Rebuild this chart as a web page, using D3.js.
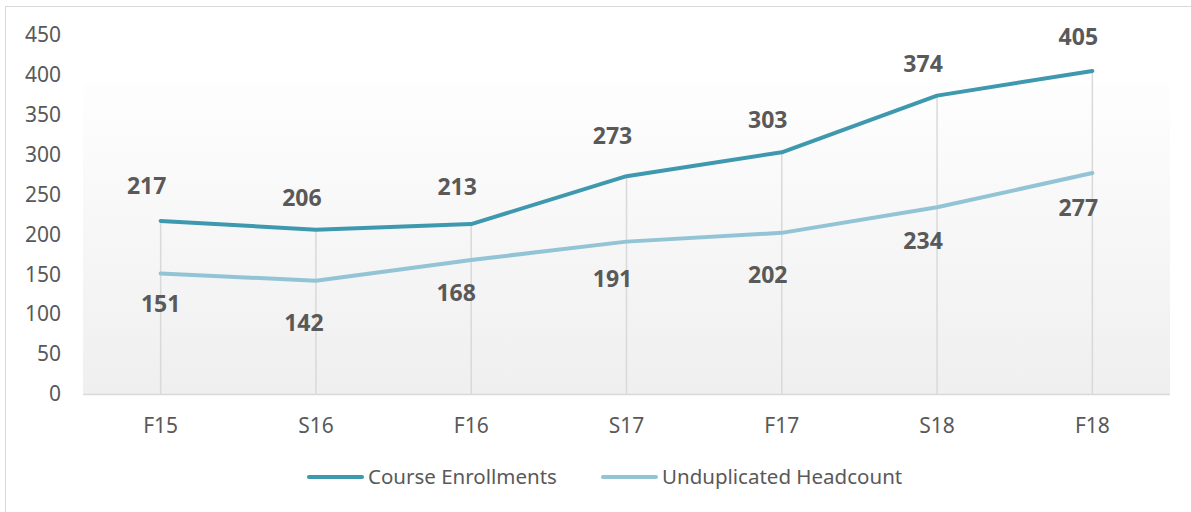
<!DOCTYPE html>
<html lang="en">
<head>
<meta charset="UTF-8">
<title>Enrollments</title>
<script src="https://d3js.org/d3.v7.min.js"></script>
<style>
  body { margin: 0; background: #fff; }
  text { font-family: "Noto Sans", "Open Sans", sans-serif; fill: #595959; }
</style>
</head>
<body>
<div id="main"></div>
<script>
    // data
    const terms = ["F15", "S16", "F16", "S17", "F17", "S18", "F18"]
    const courseEnrollments = [217, 206, 213, 273, 303, 374, 405]
    const unduplicatedHeadcount = [151, 142, 168, 191, 202, 234, 277]
    const yTicks = [0, 50, 100, 150, 200, 250, 300, 350, 400, 450]
    const seriesNames = ["Course Enrollments", "Unduplicated Headcount"]

    // hand placed label offsets (px), like the original's data labels
    const courseLabelDx = [-14, -14, -14, -14, -14, -14, -14]
    const courseLabelDy = [-35, -32, -37, -40, -32, -32, -34]
    const headLabelDx = [0, -12, -15, -14, -14, -14, -14]
    const headLabelDy = [30, 42, 33, 37, 42, 34, 35]

    const W = 1191, H = 512
    const plot = {left: 83, right: 1170, top: 35, bottom: 394}

    let svg = d3.select("#main").append("svg")
        .attr("width", W).attr("height", H)

    // outer chart border
    svg.append("rect")
        .attr("x", 5.5).attr("y", 6.5)
        .attr("width", 1200).attr("height", 520)
        .attr("fill", "#fff").attr("stroke", "#d9d9d9")

    let grad = svg.append("defs").append("linearGradient")
        .attr("id", "bg").attr("x1", 0).attr("y1", 0).attr("x2", 0).attr("y2", 1)
    grad.append("stop").attr("offset", "0%").attr("stop-color", "#fefefe")
    grad.append("stop").attr("offset", "100%").attr("stop-color", "#efefef")

    let x = d3.scaleBand().domain(terms).range([plot.left, plot.right])
    let y = d3.scaleLinear().domain([0, 450]).range([plot.bottom, plot.top])
    const cx = d => x(d) + x.bandwidth() / 2

    // plot area fill
    svg.append("rect")
        .attr("x", plot.left).attr("y", 83)
        .attr("width", plot.right - plot.left).attr("height", plot.bottom - 83)
        .attr("fill", "url(#bg)")

    // y axis labels
    svg.append("g")
        .attr("transform", "translate(61,0)")
        .call(d3.axisLeft(y).tickValues(yTicks).tickSize(0).tickPadding(0))
        .call(g => g.select(".domain").remove())
        .selectAll("text")
        .attr("font-size", 21).attr("fill", "#595959")
        .style("font-family", "'Noto Sans', sans-serif")

    // drop lines
    svg.append("g").selectAll("line")
        .data(terms)
        .join("line")
        .attr("x1", d => cx(d)).attr("x2", d => cx(d))
        .attr("y1", (d, i) => y(Math.max(courseEnrollments[i], unduplicatedHeadcount[i])))
        .attr("y2", y(0))
        .attr("stroke", "#d9d9d9").attr("stroke-width", 1.5)

    // x axis
    svg.append("line")
        .attr("x1", plot.left).attr("x2", plot.right)
        .attr("y1", y(0) + 0.5).attr("y2", y(0) + 0.5)
        .attr("stroke", "#d9d9d9").attr("stroke-width", 1.5)

    svg.append("g").selectAll("text")
        .data(terms)
        .join("text")
        .attr("x", d => cx(d)).attr("y", 433)
        .attr("text-anchor", "middle")
        .attr("font-size", 21)
        .text(d => d)

    const series = [
        {name: seriesNames[0], values: courseEnrollments, color: "#3e98ae", dx: courseLabelDx, dy: courseLabelDy},
        {name: seriesNames[1], values: unduplicatedHeadcount, color: "#92c4d5", dx: headLabelDx, dy: headLabelDy}
    ]

    let line = d3.line().x(d => cx(d.t)).y(d => y(d.v))

    series.forEach(s => {
        let pts = terms.map((t, i) => ({t: t, v: s.values[i], i: i}))
        svg.append("path")
            .datum(pts)
            .attr("d", line)
            .attr("fill", "none")
            .attr("stroke", s.color)
            .attr("stroke-width", 4)
            .attr("stroke-linecap", "round")
            .attr("stroke-linejoin", "round")

        svg.append("g").selectAll("text")
            .data(pts)
            .join("text")
            .attr("x", d => cx(d.t) + s.dx[d.i])
            .attr("y", d => y(d.v) + s.dy[d.i])
            .attr("dy", "0.35em")
            .attr("text-anchor", "middle")
            .attr("font-size", 23).attr("font-weight", "bold")
            .text(d => d.v)
    })

    // legend
    let legend = svg.append("g").selectAll("g")
        .data(series)
        .join("g")
        .attr("transform", (d, i) => `translate(${[309, 603][i]},477)`)
    legend.append("line")
        .attr("x1", 0).attr("x2", 53)
        .attr("stroke", d => d.color).attr("stroke-width", 4)
        .attr("stroke-linecap", "round")
    legend.append("text")
        .attr("x", 59).attr("dy", "0.35em")
        .attr("font-size", 20.5)
        .text(d => d.name)
</script>
</body>
</html>
